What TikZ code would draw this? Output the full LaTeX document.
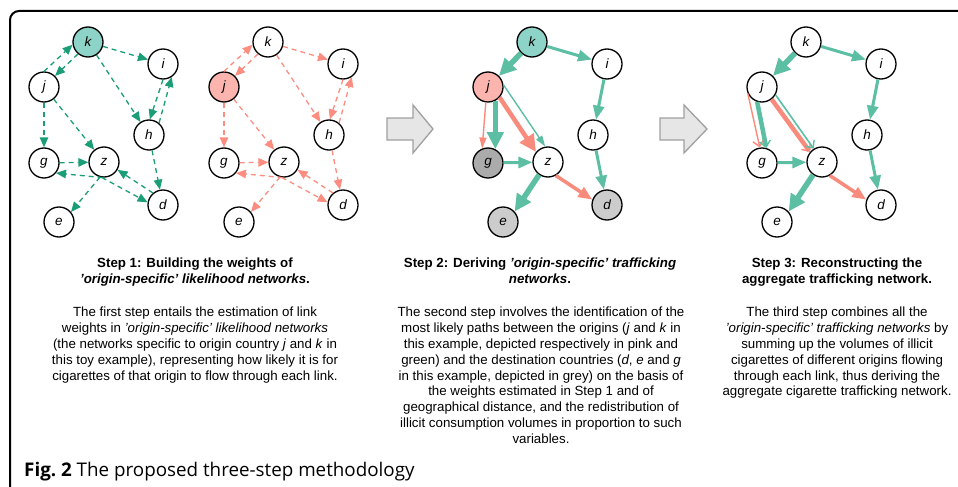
\documentclass[tikz,border=0pt]{standalone}
\usepackage{fontspec}
\setmainfont{Liberation Sans}[Ligatures=ResetAll]
\newfontfamily\capfont{Open Sans}
\usetikzlibrary{arrows.meta}
\definecolor{tdark}{HTML}{1B9E77}
\definecolor{sal}{HTML}{FC8D80}
\definecolor{kfill}{HTML}{8DD3C7}
\definecolor{jfill}{HTML}{FBB4AE}
\definecolor{tmed}{HTML}{5CBFA4}
\definecolor{pmed}{HTML}{F98B7C}
\definecolor{gdark}{HTML}{ABABAB}
\definecolor{glight}{HTML}{CCCCCC}
\definecolor{arrfill}{HTML}{E6E6E6}
\definecolor{arrline}{HTML}{A0A0A0}
\newcommand\panelnodes[8]{%
  \node[nd,fill=#1] (k) at (88,42) {k};
  \node[nd,fill=#2] (i) at (163,64) {i};
  \node[nd,fill=#3] (j) at (44,87) {j};
  \node[nd,fill=#4] (h) at (149,135) {h};
  \node[nd,fill=#5] (g) at (44,163) {g};
  \node[nd,fill=#6] (z) at (104,162) {z};
  \node[nd,fill=#7] (d) at (163,205) {d};
  \node[nd,fill=#8] (e) at (59,222) {e};}
\newcommand\dashededges[1]{%
  \draw[#1] (j.90) -- (k.190);
  \draw[#1] (k.230) -- (j.45);
  \draw[#1] (k) -- (i);
  \draw[#1] (k) -- (h);
  \draw[#1] (i.270) -- (h.87);
  \draw[#1] (h.50) -- (i.304);
  \draw[#1] (j) -- (g);
  \draw[#1] (j) -- (z);
  \draw[#1] (g) -- (z);
  \draw[#1] (z.265) -- (g.320);
  \draw[#1] (z.262) -- (d.170);
  \draw[#1] (d.130) -- (z.330);
  \draw[#1] (z.255) -- (e.40);
  \draw[#1] (h) -- (d);}
\begin{document}
\begin{tikzpicture}[x=1pt,y=-1pt,
  nd/.style={circle, draw=black, line width=1.3pt, minimum size=30pt, inner sep=0pt,
    font=\fontsize{13.5}{13.5}\selectfont\itshape},
  dg/.style={draw=tdark, line width=1.3pt, dash pattern=on 5pt off 4pt,
    -{Triangle[length=10pt,width=8.5pt]}},
  dp/.style={dg, draw=sal},
  tthick/.style={draw=tmed, line width=5.5pt, -{Triangle[length=17pt,width=16pt]}},
  tmid/.style={draw=tmed, line width=3pt, -{Triangle[length=14pt,width=11pt]}},
  tthin/.style={draw=tmed, line width=1.4pt, -{Triangle[length=11pt,width=7pt]}},
  pthick/.style={tthick, draw=pmed, line width=4.5pt},
  pmid/.style={tmid, draw=pmed, line width=3.5pt},
  pthin/.style={tthin, draw=pmed},
  topen/.style={draw=tmed, line width=#1, -{Straight Barb[length=6pt,width=11pt,line width=1.4pt]}},
  popen/.style={draw=pmed, line width=#1, -{Straight Barb[length=6pt,width=11pt,line width=1.4pt]}},
  garrow/.style={fill=arrfill, draw=arrline, line width=1.3pt, line join=miter},
  txt/.style={align=center, inner sep=0pt, font=\fontsize{13.3}{15.8}\selectfont},
]
\useasboundingbox (0,0) rectangle (958,487);
\draw[line width=2pt, rounded corners=9pt] (10,490) -- (10,11) -- (960,11);

% panel 1
\begin{scope}[name prefix=a-]
  \panelnodes{kfill}{white}{white}{white}{white}{white}{white}{white}
  \dashededges{dg}
\end{scope}
% panel 2
\begin{scope}[xshift=180pt, name prefix=b-]
  \panelnodes{white}{white}{jfill}{white}{white}{white}{white}{white}
  \dashededges{dp}
\end{scope}
% panel 3
\begin{scope}[xshift=444pt, name prefix=c-]
  \panelnodes{kfill}{white}{jfill}{white}{gdark}{white}{glight}{glight}
  \draw[tthick] (k) -- (j);
  \draw[tmid] (k) -- (i);
  \draw[tmid] (i) -- (h);
  \draw[tmid] (h) -- (d);
  \draw[pthin] (j.262) -- (g.112);
  \draw[tthick, line width=4.5pt] (j.-62) -- (g.62);
  \draw[pthick] (j.-42) -- (z.140);
  \draw[tthin] (j.8) -- (z.100);
  \draw[tmid] (g) -- (z);
  \draw[tthick] (z.235) -- (e.42);
  \draw[pmid] (z.300) -- (d.160);
\end{scope}
% panel 4
\begin{scope}[xshift=718pt, name prefix=d-]
  \panelnodes{white}{white}{white}{white}{white}{white}{white}{white}
  \draw[tthick] (k) -- (j);
  \draw[tmid] (k) -- (i);
  \draw[tmid] (i) -- (h);
  \draw[tmid] (h) -- (d);
  \draw[popen=1.4pt] (j.205) -- (g.98);
  \draw[topen=4.5pt] (j.252) -- (g.74);
  \draw[popen=4.5pt] (j.-52) -- (z.140);
  \draw[topen=1.6pt] (j.-30) -- (z.122);
  \draw[tmid] (g) -- (z);
  \draw[tthick] (z.235) -- (e.42);
  \draw[pmid] (z.300) -- (d.160);
\end{scope}

% grey block arrows
\draw[garrow] (387,118) -- (413,118) -- (413,105) -- (433,129) -- (413,153) -- (413,140) -- (387,140) -- cycle;
\draw[garrow] (660,118) -- (684,118) -- (684,105) -- (707,129) -- (684,153) -- (684,140) -- (660,140) -- cycle;

% texts
\node[txt, anchor=north] (t1) at (195,258) {\bfseries Step 1: Building the weights of\\
  \bfseries\itshape 'origin-specific' likelihood networks\upshape.};
\node[txt, anchor=north] (b1) at (195,307) {The first step entails the estimation of link\\
  weights in \textit{'origin-specific' likelihood networks}\\
  (the networks specific to origin country \textit{j} and \textit{k} in\\
  this toy example), representing how likely it is for\\
  cigarettes of that origin to flow through each link.};
\node[txt, anchor=north] (t2) at (540,258) {\bfseries Step 2: Deriving \itshape 'origin-specific' trafficking\\
  \bfseries\itshape networks\upshape.};
\node[txt, anchor=north] (b2) at (541,307) {The second step involves the identification of the\\
  most likely paths between the origins (\textit{j} and \textit{k} in\\
  this example, depicted respectively in pink and\\
  green) and the destination countries (\textit{d}, \textit{e} and \textit{g}\\
  in this example, depicted in grey) on the basis of\\
  the weights estimated in Step 1 and of\\
  geographical distance, and the redistribution of\\
  illicit consumption volumes in proportion to such\\
  variables.};
\node[txt, anchor=north] (t3) at (837,258) {\bfseries Step 3: Reconstructing the\\
  \bfseries aggregate trafficking network.};
\node[txt, anchor=north] (b3) at (837,307) {The third step combines all the\\
  \textit{'origin-specific' trafficking networks} by\\
  summing up the volumes of illicit\\
  cigarettes of different origins flowing\\
  through each link, thus deriving the\\
  aggregate cigarette trafficking network.};
\node[anchor=base west, inner sep=0pt] (cap) at (24,476)
  {\capfont\fontsize{18.8}{18.8}\selectfont\bfseries Fig.~2 \mdseries The proposed three-step methodology};
\end{tikzpicture}
\end{document}
